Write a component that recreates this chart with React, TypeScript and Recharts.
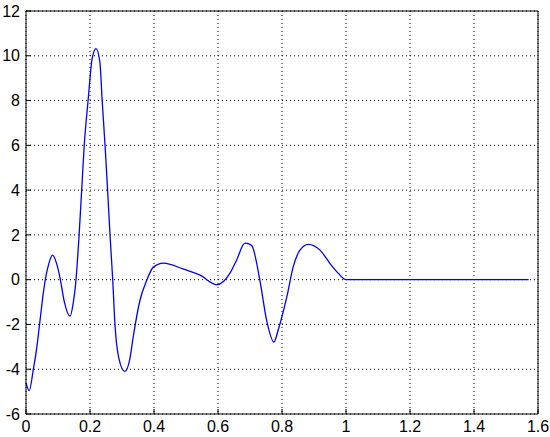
import { CartesianGrid, Line, LineChart, XAxis, YAxis } from 'recharts'

// sampled off the reference curve (x in radians, ends at pi/2)
const xValues = [
  0, 0.01, 0.023, 0.033, 0.044, 0.054, 0.063, 0.072, 0.083, 0.095, 0.106, 0.12, 0.1375, 0.148,
  0.155, 0.166, 0.174, 0.182, 0.194, 0.207, 0.219, 0.231, 0.238, 0.247, 0.255, 0.2625, 0.271,
  0.278, 0.29, 0.309, 0.325, 0.335, 0.356, 0.377, 0.398, 0.43, 0.49, 0.544, 0.596, 0.638, 0.658,
  0.684, 0.705, 0.731, 0.752, 0.775, 0.788, 0.815, 0.835, 0.856, 0.882, 0.919, 0.95, 0.976, 1.0,
  1.2, 1.4, 1.5708
]
const yValues = [
  -4.6, -4.96, -4.0, -3.1, -1.8, -0.6, 0.2, 0.75, 1.1, 0.75, 0.1, -1.0, -1.63, -1.0,
  -0.2, 2.0, 4.0, 6.0, 8.0, 9.9, 10.32, 9.7, 8.0, 6.0, 4.0, 2.0, 0.0,
  -2.0, -3.5, -4.1, -3.5, -2.56, -0.93, -0.04, 0.56, 0.74, 0.48, 0.2, -0.23, 0.3, 0.87,
  1.63, 1.53, -0.04, -1.82, -2.79, -2.25, -0.77, 0.57, 1.32, 1.58, 1.32, 0.72, 0.28, 0,
  0, 0, 0
]
const xTicks = [0, 0.2, 0.4, 0.6, 0.8, 1, 1.2, 1.4, 1.6]
const yTicks = [-6, -4, -2, 0, 2, 4, 6, 8, 10, 12]

const data = xValues.map((x, i) => ({ x, y: yValues[i] }))

const tickStyle = { fill: '#000', fontSize: 16, fontFamily: '"Liberation Sans", Arial, sans-serif' }

export default function App() {
  return (
    <div style={{ position: 'absolute', left: 0, top: 0, background: '#fff' }}>
      <LineChart width={550} height={437} data={data} margin={{ top: 10, right: 11, bottom: 0, left: 0 }}>
        <CartesianGrid stroke="#000" strokeDasharray="1 3" strokeWidth={1} />
        <XAxis
          dataKey="x"
          type="number"
          domain={[0, 1.6]}
          ticks={xTicks}
          interval={0}
          height={23}
          stroke="#000"
          tickSize={-5}
          tickMargin={12}
          tick={tickStyle}
        />
        <XAxis
          xAxisId="top"
          orientation="top"
          type="number"
          domain={[0, 1.6]}
          ticks={xTicks}
          interval={0}
          height={1}
          stroke="#000"
          tickSize={-5}
          tick={false}
        />
        <YAxis
          type="number"
          domain={[-6, 12]}
          ticks={yTicks}
          interval={0}
          width={26}
          stroke="#000"
          tickSize={-5}
          tickMargin={11}
          tick={tickStyle}
        />
        <YAxis
          yAxisId="r"
          orientation="right"
          type="number"
          domain={[-6, 12]}
          ticks={yTicks}
          interval={0}
          width={1}
          stroke="#000"
          tickSize={-5}
          tick={false}
        />
        <Line
          type="monotone"
          dataKey="y"
          stroke="#0000ff"
          strokeWidth={1.3}
          dot={false}
          isAnimationActive={false}
        />
      </LineChart>
    </div>
  )
}
